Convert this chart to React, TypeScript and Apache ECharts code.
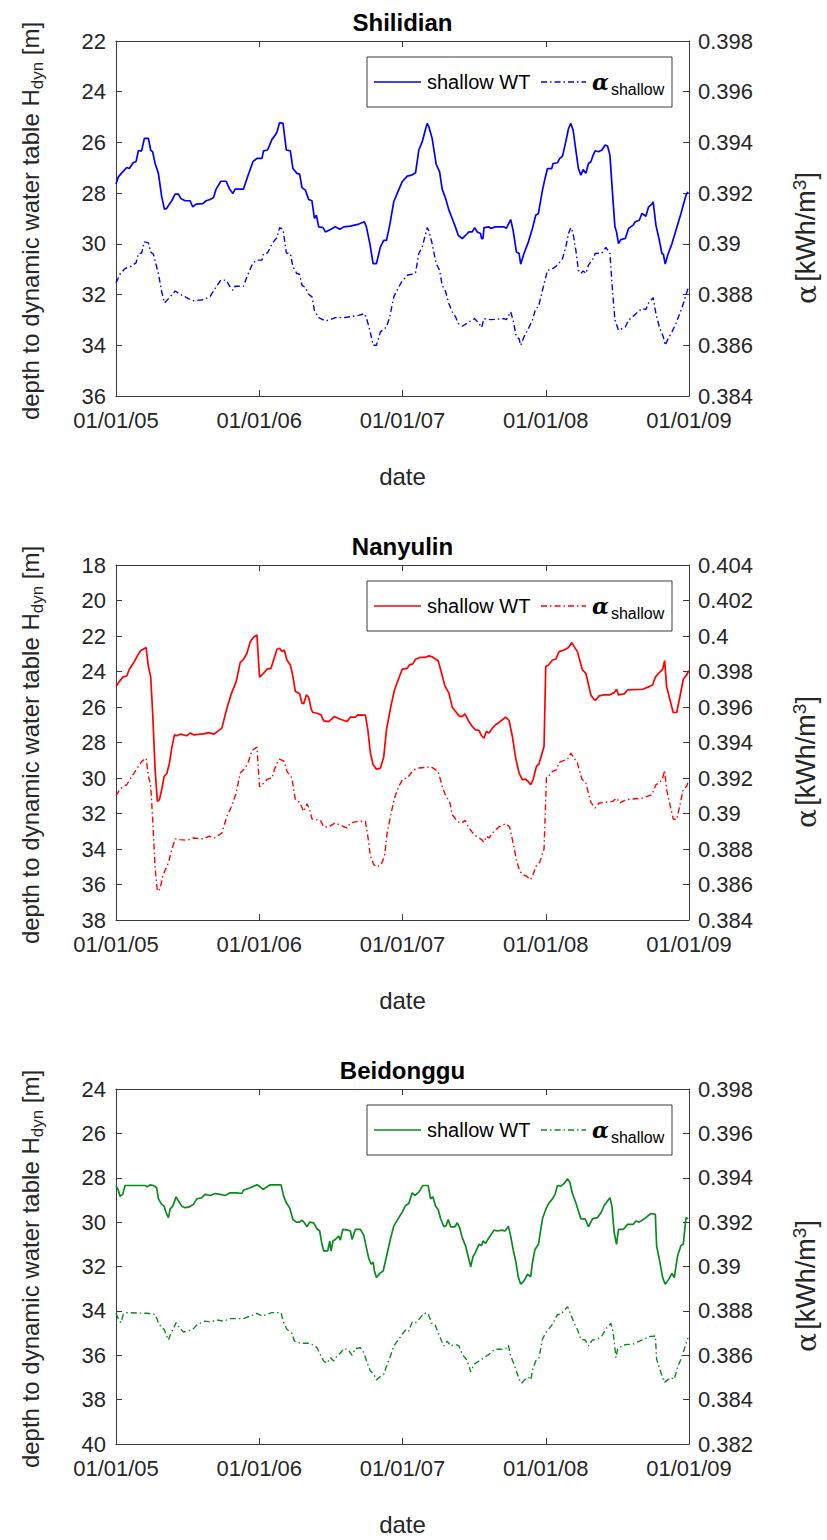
import React, { useEffect, useRef } from "react";
import * as echarts from "echarts";

const xTickLabels = ["01/01/05", "01/01/06", "01/01/07", "01/01/08", "01/01/09"];
const stationNames = ["Shilidian", "Nanyulin", "Beidonggu"];
const lineColors = ["#0000ff", "#ff0000", "#0a8a1e"];
const leftRanges = [[22, 36], [18, 38], [24, 40]];
const rightRanges = [[0.384, 0.398], [0.384, 0.404], [0.382, 0.398]];

const shilidianWT = [[2005.000,27.64],[2005.016,27.36],[2005.047,27.16],[2005.075,26.99],[2005.093,27.03],[2005.121,26.79],[2005.140,26.76],[2005.156,26.33],[2005.179,26.33],[2005.198,25.84],[2005.226,25.84],[2005.242,26.30],[2005.256,26.37],[2005.273,26.83],[2005.296,27.22],[2005.319,28.14],[2005.338,28.63],[2005.354,28.60],[2005.373,28.43],[2005.389,28.30],[2005.413,28.04],[2005.436,28.04],[2005.452,28.21],[2005.483,28.30],[2005.517,28.30],[2005.536,28.54],[2005.559,28.43],[2005.606,28.41],[2005.629,28.30],[2005.657,28.25],[2005.681,28.17],[2005.699,27.84],[2005.732,27.53],[2005.769,27.53],[2005.793,27.84],[2005.816,28.01],[2005.832,27.84],[2005.890,27.84],[2005.918,27.36],[2005.956,26.76],[2005.984,26.63],[2006.019,26.63],[2006.030,26.33],[2006.058,26.30],[2006.089,25.88],[2006.112,25.71],[2006.124,25.58],[2006.142,25.22],[2006.166,25.25],[2006.189,26.30],[2006.217,26.33],[2006.235,27.03],[2006.263,27.22],[2006.282,27.25],[2006.298,27.78],[2006.322,27.88],[2006.345,28.25],[2006.368,28.30],[2006.385,29.00],[2006.399,28.87],[2006.415,29.33],[2006.445,29.36],[2006.462,29.53],[2006.497,29.43],[2006.531,29.33],[2006.562,29.42],[2006.590,29.33],[2006.636,29.30],[2006.695,29.22],[2006.734,29.13],[2006.748,29.33],[2006.772,29.99],[2006.795,30.78],[2006.818,30.78],[2006.846,30.12],[2006.869,29.86],[2006.888,29.86],[2006.911,29.26],[2006.939,28.34],[2006.974,27.86],[2006.998,27.55],[2007.033,27.33],[2007.063,27.29],[2007.091,27.20],[2007.114,26.30],[2007.138,25.97],[2007.156,25.58],[2007.172,25.25],[2007.184,25.38],[2007.207,25.84],[2007.235,26.86],[2007.259,27.16],[2007.277,27.84],[2007.301,28.21],[2007.324,28.67],[2007.347,29.00],[2007.371,29.36],[2007.389,29.66],[2007.417,29.79],[2007.441,29.66],[2007.464,29.53],[2007.487,29.53],[2007.504,29.36],[2007.522,29.53],[2007.545,29.59],[2007.552,29.79],[2007.562,29.79],[2007.569,29.36],[2007.604,29.33],[2007.615,29.39],[2007.650,29.33],[2007.709,29.33],[2007.725,29.39],[2007.755,29.04],[2007.772,29.46],[2007.795,30.32],[2007.814,30.38],[2007.825,30.80],[2007.848,30.38],[2007.879,29.92],[2007.907,29.39],[2007.930,28.87],[2007.949,28.80],[2007.977,27.88],[2007.995,27.42],[2008.012,27.03],[2008.042,27.03],[2008.051,26.83],[2008.082,26.80],[2008.098,26.63],[2008.117,26.54],[2008.140,25.97],[2008.159,25.45],[2008.175,25.25],[2008.191,25.51],[2008.210,26.30],[2008.228,27.03],[2008.245,27.29],[2008.261,27.07],[2008.280,27.22],[2008.298,26.83],[2008.315,26.76],[2008.331,26.50],[2008.345,26.33],[2008.368,26.37],[2008.392,26.30],[2008.415,26.10],[2008.431,26.14],[2008.448,26.50],[2008.466,28.01],[2008.483,29.33],[2008.494,29.53],[2008.508,29.99],[2008.524,29.83],[2008.555,29.79],[2008.578,29.39],[2008.611,29.26],[2008.625,29.13],[2008.653,29.07],[2008.671,28.80],[2008.699,28.91],[2008.718,28.54],[2008.741,28.43],[2008.750,28.34],[2008.769,29.26],[2008.793,29.86],[2008.811,30.38],[2008.821,30.41],[2008.834,30.80],[2008.851,30.45],[2008.881,29.99],[2008.909,29.46],[2008.944,28.80],[2008.960,28.47],[2008.979,28.08],[2008.993,27.95]];

const shilidianAlpha = [[2005.000,0.38846],[2005.028,0.38880],[2005.063,0.38903],[2005.098,0.38909],[2005.140,0.38925],[2005.156,0.38962],[2005.179,0.38964],[2005.198,0.39008],[2005.226,0.39004],[2005.242,0.38968],[2005.261,0.38959],[2005.296,0.38883],[2005.319,0.38811],[2005.338,0.38767],[2005.373,0.38788],[2005.413,0.38814],[2005.448,0.38801],[2005.483,0.38791],[2005.536,0.38775],[2005.611,0.38780],[2005.657,0.38793],[2005.699,0.38830],[2005.732,0.38857],[2005.769,0.38857],[2005.793,0.38833],[2005.816,0.38817],[2005.832,0.38833],[2005.890,0.38833],[2005.918,0.38876],[2005.956,0.38925],[2005.984,0.38936],[2006.019,0.38936],[2006.030,0.38962],[2006.058,0.38964],[2006.089,0.39001],[2006.124,0.39025],[2006.142,0.39064],[2006.166,0.39058],[2006.189,0.38964],[2006.217,0.38962],[2006.235,0.38909],[2006.263,0.38883],[2006.282,0.38880],[2006.298,0.38837],[2006.322,0.38828],[2006.345,0.38801],[2006.368,0.38791],[2006.385,0.38738],[2006.415,0.38709],[2006.462,0.38696],[2006.497,0.38701],[2006.531,0.38709],[2006.590,0.38709],[2006.695,0.38718],[2006.734,0.38725],[2006.748,0.38709],[2006.772,0.38659],[2006.795,0.38600],[2006.818,0.38600],[2006.846,0.38653],[2006.888,0.38672],[2006.911,0.38712],[2006.939,0.38791],[2006.974,0.38830],[2006.998,0.38854],[2007.033,0.38876],[2007.063,0.38880],[2007.091,0.38886],[2007.114,0.38962],[2007.138,0.38988],[2007.156,0.39028],[2007.172,0.39064],[2007.184,0.39051],[2007.207,0.39001],[2007.235,0.38922],[2007.259,0.38896],[2007.277,0.38837],[2007.301,0.38811],[2007.324,0.38764],[2007.347,0.38732],[2007.371,0.38712],[2007.389,0.38686],[2007.417,0.38675],[2007.464,0.38692],[2007.504,0.38705],[2007.534,0.38686],[2007.552,0.38670],[2007.569,0.38705],[2007.615,0.38701],[2007.709,0.38705],[2007.725,0.38701],[2007.755,0.38732],[2007.772,0.38699],[2007.795,0.38633],[2007.814,0.38626],[2007.825,0.38600],[2007.848,0.38633],[2007.879,0.38666],[2007.907,0.38699],[2007.930,0.38745],[2007.949,0.38751],[2007.977,0.38817],[2007.995,0.38857],[2008.012,0.38896],[2008.042,0.38899],[2008.082,0.38916],[2008.117,0.38942],[2008.140,0.38988],[2008.159,0.39041],[2008.175,0.39064],[2008.191,0.39041],[2008.210,0.38975],[2008.228,0.38896],[2008.245,0.38883],[2008.261,0.38893],[2008.280,0.38883],[2008.298,0.38916],[2008.331,0.38942],[2008.345,0.38962],[2008.392,0.38964],[2008.420,0.38986],[2008.448,0.38962],[2008.466,0.38817],[2008.483,0.38699],[2008.508,0.38659],[2008.555,0.38672],[2008.578,0.38699],[2008.625,0.38722],[2008.671,0.38745],[2008.699,0.38741],[2008.718,0.38767],[2008.750,0.38788],[2008.769,0.38725],[2008.793,0.38672],[2008.821,0.38633],[2008.834,0.38600],[2008.851,0.38622],[2008.881,0.38653],[2008.909,0.38686],[2008.944,0.38738],[2008.960,0.38764],[2008.993,0.38824]];

const nanyulinWT = [[2005.000,24.85],[2005.023,24.57],[2005.047,24.32],[2005.075,24.25],[2005.093,23.87],[2005.121,23.54],[2005.149,23.12],[2005.172,22.82],[2005.191,22.75],[2005.210,22.64],[2005.226,23.72],[2005.242,24.29],[2005.256,26.35],[2005.273,29.53],[2005.289,31.32],[2005.303,31.22],[2005.319,30.66],[2005.336,29.91],[2005.354,29.76],[2005.373,29.16],[2005.389,28.32],[2005.408,27.57],[2005.424,27.62],[2005.448,27.53],[2005.494,27.62],[2005.517,27.47],[2005.541,27.57],[2005.611,27.51],[2005.646,27.44],[2005.685,27.53],[2005.723,27.29],[2005.739,27.19],[2005.774,26.07],[2005.802,25.32],[2005.839,24.57],[2005.867,23.50],[2005.890,23.31],[2005.914,22.97],[2005.937,22.32],[2005.960,22.07],[2005.984,21.94],[2006.002,24.32],[2006.026,24.14],[2006.054,23.87],[2006.082,23.82],[2006.100,23.35],[2006.124,22.75],[2006.142,22.69],[2006.159,22.88],[2006.175,22.79],[2006.193,23.35],[2006.217,23.63],[2006.235,24.29],[2006.252,25.13],[2006.282,25.26],[2006.298,25.79],[2006.310,25.82],[2006.329,25.32],[2006.345,25.45],[2006.364,26.16],[2006.375,26.31],[2006.403,26.35],[2006.431,26.44],[2006.450,26.78],[2006.485,26.82],[2006.524,26.54],[2006.566,26.69],[2006.613,26.82],[2006.636,26.57],[2006.671,26.57],[2006.688,26.44],[2006.741,26.46],[2006.758,27.29],[2006.776,28.60],[2006.795,29.25],[2006.818,29.50],[2006.846,29.44],[2006.869,28.82],[2006.888,27.29],[2006.916,26.07],[2006.944,25.04],[2006.974,24.38],[2006.998,23.87],[2007.033,23.82],[2007.049,23.63],[2007.072,23.57],[2007.091,23.31],[2007.126,23.20],[2007.161,23.20],[2007.184,23.12],[2007.203,23.16],[2007.249,23.39],[2007.273,24.10],[2007.296,24.81],[2007.324,25.22],[2007.347,26.01],[2007.371,26.25],[2007.394,26.50],[2007.417,26.54],[2007.436,26.39],[2007.459,26.76],[2007.487,27.10],[2007.510,27.29],[2007.534,27.32],[2007.552,27.62],[2007.569,27.75],[2007.585,27.38],[2007.604,27.47],[2007.627,27.19],[2007.650,27.00],[2007.674,26.87],[2007.697,26.72],[2007.720,26.57],[2007.744,26.76],[2007.767,27.66],[2007.790,28.88],[2007.814,29.72],[2007.837,30.10],[2007.860,30.06],[2007.876,30.19],[2007.895,30.38],[2007.911,30.10],[2007.935,29.35],[2007.953,29.20],[2007.988,28.22],[2008.000,23.72],[2008.019,23.63],[2008.047,23.35],[2008.070,23.31],[2008.093,22.88],[2008.128,22.79],[2008.152,22.69],[2008.163,22.60],[2008.182,22.37],[2008.198,22.60],[2008.221,22.88],[2008.256,23.91],[2008.280,24.10],[2008.315,25.32],[2008.338,25.60],[2008.350,25.60],[2008.373,25.37],[2008.408,25.32],[2008.443,25.32],[2008.478,25.19],[2008.494,25.00],[2008.508,25.32],[2008.548,25.26],[2008.571,25.04],[2008.676,25.00],[2008.723,24.85],[2008.746,24.76],[2008.765,24.32],[2008.793,24.06],[2008.816,23.87],[2008.830,23.39],[2008.844,24.85],[2008.867,25.60],[2008.890,26.31],[2008.914,26.31],[2008.937,25.41],[2008.960,24.44],[2008.984,24.19],[2008.998,23.95]];

const nanyulinAlpha = [[2005.000,0.39100],[2005.023,0.39130],[2005.051,0.39153],[2005.075,0.39162],[2005.098,0.39194],[2005.126,0.39228],[2005.156,0.39265],[2005.179,0.39293],[2005.210,0.39312],[2005.226,0.39209],[2005.242,0.39162],[2005.256,0.38965],[2005.273,0.38694],[2005.289,0.38562],[2005.308,0.38575],[2005.326,0.38647],[2005.343,0.38680],[2005.366,0.38722],[2005.389,0.38797],[2005.413,0.38857],[2005.448,0.38853],[2005.494,0.38849],[2005.541,0.38862],[2005.611,0.38857],[2005.653,0.38872],[2005.685,0.38862],[2005.723,0.38881],[2005.739,0.38890],[2005.774,0.38984],[2005.802,0.39031],[2005.839,0.39115],[2005.867,0.39228],[2005.902,0.39256],[2005.925,0.39293],[2005.949,0.39355],[2005.984,0.39374],[2006.002,0.39149],[2006.030,0.39171],[2006.058,0.39194],[2006.089,0.39200],[2006.105,0.39246],[2006.124,0.39284],[2006.142,0.39306],[2006.175,0.39293],[2006.193,0.39237],[2006.228,0.39200],[2006.252,0.39078],[2006.282,0.39063],[2006.310,0.39012],[2006.333,0.39055],[2006.352,0.39022],[2006.368,0.38969],[2006.427,0.38962],[2006.450,0.38924],[2006.485,0.38924],[2006.531,0.38947],[2006.613,0.38918],[2006.636,0.38947],[2006.688,0.38956],[2006.741,0.38956],[2006.758,0.38872],[2006.776,0.38759],[2006.800,0.38712],[2006.823,0.38699],[2006.851,0.38712],[2006.874,0.38759],[2006.893,0.38890],[2006.921,0.39003],[2006.944,0.39087],[2006.974,0.39153],[2007.002,0.39194],[2007.033,0.39200],[2007.056,0.39224],[2007.079,0.39246],[2007.114,0.39256],[2007.172,0.39261],[2007.196,0.39265],[2007.249,0.39237],[2007.277,0.39153],[2007.301,0.39100],[2007.329,0.39068],[2007.347,0.38993],[2007.371,0.38969],[2007.394,0.38950],[2007.417,0.38947],[2007.436,0.38962],[2007.459,0.38924],[2007.487,0.38894],[2007.510,0.38875],[2007.552,0.38853],[2007.569,0.38838],[2007.585,0.38872],[2007.604,0.38862],[2007.639,0.38900],[2007.674,0.38924],[2007.720,0.38943],[2007.748,0.38924],[2007.772,0.38834],[2007.795,0.38740],[2007.818,0.38675],[2007.841,0.38656],[2007.865,0.38647],[2007.895,0.38628],[2007.911,0.38656],[2007.935,0.38707],[2007.958,0.38725],[2007.988,0.38800],[2008.005,0.39205],[2008.028,0.39218],[2008.047,0.39237],[2008.075,0.39246],[2008.093,0.39288],[2008.128,0.39299],[2008.152,0.39306],[2008.175,0.39340],[2008.191,0.39321],[2008.221,0.39284],[2008.252,0.39194],[2008.280,0.39171],[2008.315,0.39063],[2008.345,0.39031],[2008.373,0.39059],[2008.420,0.39063],[2008.466,0.39068],[2008.494,0.39087],[2008.517,0.39059],[2008.559,0.39078],[2008.676,0.39087],[2008.741,0.39106],[2008.769,0.39162],[2008.797,0.39175],[2008.816,0.39200],[2008.830,0.39243],[2008.844,0.39134],[2008.867,0.39050],[2008.890,0.38969],[2008.914,0.38965],[2008.937,0.39050],[2008.960,0.39138],[2008.984,0.39153],[2008.998,0.39190]];

const beidongguWT = [[2005.000,28.35],[2005.016,28.56],[2005.028,28.83],[2005.047,28.75],[2005.063,28.35],[2005.203,28.35],[2005.219,28.41],[2005.238,28.32],[2005.261,28.35],[2005.284,28.45],[2005.296,28.95],[2005.319,29.20],[2005.336,29.28],[2005.350,29.58],[2005.366,29.80],[2005.378,29.40],[2005.396,29.28],[2005.420,28.86],[2005.436,29.05],[2005.459,29.28],[2005.483,29.35],[2005.513,29.31],[2005.541,29.20],[2005.564,28.95],[2005.599,28.90],[2005.622,28.75],[2005.657,28.80],[2005.692,28.71],[2005.727,28.75],[2005.762,28.80],[2005.797,28.68],[2005.844,28.68],[2005.879,28.71],[2005.890,28.56],[2005.937,28.45],[2005.984,28.32],[2006.007,28.41],[2006.026,28.53],[2006.054,28.41],[2006.077,28.32],[2006.152,28.32],[2006.170,28.83],[2006.189,29.13],[2006.212,29.35],[2006.235,29.88],[2006.259,30.00],[2006.282,30.00],[2006.298,29.91],[2006.315,30.03],[2006.333,30.21],[2006.352,30.00],[2006.380,30.03],[2006.403,30.30],[2006.422,30.40],[2006.438,31.00],[2006.450,31.30],[2006.478,31.30],[2006.492,30.85],[2006.501,31.30],[2006.515,30.85],[2006.531,30.78],[2006.555,30.63],[2006.566,30.81],[2006.583,30.33],[2006.618,30.36],[2006.636,30.40],[2006.648,30.78],[2006.671,30.33],[2006.706,30.33],[2006.730,30.60],[2006.748,31.15],[2006.765,31.65],[2006.781,31.90],[2006.795,31.80],[2006.804,32.20],[2006.818,32.50],[2006.841,32.31],[2006.865,32.20],[2006.881,31.75],[2006.897,31.30],[2006.916,30.75],[2006.939,30.18],[2006.974,29.80],[2006.998,29.55],[2007.021,29.25],[2007.044,29.16],[2007.068,28.68],[2007.086,28.80],[2007.114,28.65],[2007.142,28.35],[2007.179,28.35],[2007.196,28.95],[2007.212,28.86],[2007.231,29.28],[2007.249,29.43],[2007.266,29.85],[2007.289,30.21],[2007.305,30.15],[2007.319,29.88],[2007.336,30.21],[2007.366,30.21],[2007.382,30.03],[2007.399,30.25],[2007.417,30.70],[2007.441,31.08],[2007.452,31.38],[2007.476,32.01],[2007.492,31.56],[2007.510,31.35],[2007.534,31.00],[2007.552,31.05],[2007.562,30.85],[2007.580,30.96],[2007.604,30.70],[2007.639,30.36],[2007.662,30.40],[2007.692,30.36],[2007.716,30.40],[2007.739,30.18],[2007.755,30.63],[2007.772,31.23],[2007.790,31.75],[2007.809,32.50],[2007.825,32.80],[2007.848,32.65],[2007.872,32.35],[2007.895,32.46],[2007.907,31.83],[2007.925,31.23],[2007.949,31.00],[2007.977,29.85],[2008.000,29.43],[2008.023,29.13],[2008.047,28.95],[2008.065,28.75],[2008.082,28.35],[2008.105,28.38],[2008.128,28.26],[2008.152,28.05],[2008.168,28.20],[2008.186,28.71],[2008.210,29.13],[2008.228,29.50],[2008.245,29.85],[2008.275,29.85],[2008.298,30.21],[2008.326,29.85],[2008.361,29.80],[2008.385,29.58],[2008.408,29.25],[2008.431,29.05],[2008.448,28.90],[2008.462,29.28],[2008.478,30.48],[2008.494,31.00],[2008.508,30.33],[2008.541,30.33],[2008.571,30.10],[2008.611,30.10],[2008.629,29.95],[2008.653,30.00],[2008.688,29.85],[2008.734,29.61],[2008.765,29.65],[2008.774,31.08],[2008.793,31.68],[2008.816,32.50],[2008.834,32.80],[2008.858,32.58],[2008.881,32.31],[2008.897,32.50],[2008.921,31.50],[2008.944,31.05],[2008.960,31.00],[2008.979,29.80],[2008.993,29.85]];

const beidongguAlpha = [[2005.000,0.38789],[2005.016,0.38765],[2005.033,0.38747],[2005.051,0.38784],[2005.075,0.38792],[2005.214,0.38789],[2005.273,0.38784],[2005.296,0.38747],[2005.319,0.38724],[2005.336,0.38717],[2005.354,0.38687],[2005.366,0.38669],[2005.382,0.38698],[2005.401,0.38720],[2005.420,0.38747],[2005.443,0.38724],[2005.471,0.38705],[2005.506,0.38709],[2005.541,0.38720],[2005.569,0.38739],[2005.622,0.38754],[2005.657,0.38750],[2005.704,0.38759],[2005.751,0.38754],[2005.797,0.38765],[2005.890,0.38765],[2005.937,0.38777],[2005.984,0.38789],[2006.019,0.38777],[2006.054,0.38784],[2006.089,0.38792],[2006.152,0.38792],[2006.170,0.38747],[2006.193,0.38717],[2006.228,0.38699],[2006.245,0.38664],[2006.275,0.38657],[2006.305,0.38654],[2006.345,0.38654],[2006.368,0.38649],[2006.403,0.38634],[2006.431,0.38597],[2006.450,0.38574],[2006.473,0.38564],[2006.497,0.38589],[2006.520,0.38574],[2006.543,0.38597],[2006.566,0.38609],[2006.590,0.38630],[2006.618,0.38627],[2006.648,0.38600],[2006.671,0.38630],[2006.706,0.38634],[2006.730,0.38612],[2006.753,0.38567],[2006.776,0.38529],[2006.800,0.38514],[2006.818,0.38489],[2006.846,0.38504],[2006.869,0.38514],[2006.893,0.38559],[2006.916,0.38597],[2006.939,0.38642],[2006.974,0.38672],[2007.002,0.38699],[2007.026,0.38717],[2007.044,0.38709],[2007.068,0.38750],[2007.091,0.38747],[2007.119,0.38765],[2007.149,0.38789],[2007.179,0.38789],[2007.203,0.38744],[2007.226,0.38739],[2007.249,0.38702],[2007.273,0.38664],[2007.289,0.38642],[2007.312,0.38664],[2007.336,0.38642],[2007.371,0.38649],[2007.394,0.38642],[2007.417,0.38604],[2007.445,0.38582],[2007.464,0.38552],[2007.476,0.38525],[2007.499,0.38559],[2007.534,0.38574],[2007.569,0.38589],[2007.604,0.38604],[2007.646,0.38627],[2007.692,0.38627],[2007.720,0.38630],[2007.739,0.38645],[2007.755,0.38597],[2007.779,0.38559],[2007.795,0.38529],[2007.814,0.38492],[2007.832,0.38474],[2007.860,0.38495],[2007.883,0.38499],[2007.895,0.38489],[2007.911,0.38540],[2007.930,0.38574],[2007.953,0.38589],[2007.977,0.38672],[2008.000,0.38702],[2008.023,0.38720],[2008.047,0.38739],[2008.082,0.38784],[2008.105,0.38784],[2008.152,0.38819],[2008.175,0.38784],[2008.198,0.38744],[2008.221,0.38717],[2008.245,0.38672],[2008.275,0.38669],[2008.298,0.38642],[2008.326,0.38669],[2008.361,0.38672],[2008.392,0.38687],[2008.420,0.38720],[2008.455,0.38744],[2008.471,0.38702],[2008.490,0.38589],[2008.501,0.38627],[2008.536,0.38645],[2008.571,0.38649],[2008.606,0.38649],[2008.641,0.38660],[2008.676,0.38669],[2008.723,0.38684],[2008.765,0.38687],[2008.774,0.38582],[2008.804,0.38522],[2008.828,0.38477],[2008.851,0.38489],[2008.874,0.38499],[2008.897,0.38492],[2008.921,0.38549],[2008.944,0.38582],[2008.967,0.38627],[2008.993,0.38679]];

const wtSeries = [shilidianWT, nanyulinWT, beidongguWT];
const alphaSeries = [shilidianAlpha, nanyulinAlpha, beidongguAlpha];

const FONT = "'Liberation Sans', Arial, Helvetica, sans-serif";
const TXT = "#262626";
const AX = "#3a3a3a";
const GRID_LEFT = 116;
const GRID_W = 573;
const GRID_H = 355;
const TOPS = [41, 565, 1089];
const DASHDOT = [6, 3, 1.5, 3];

function buildOption() {
  const grid: any[] = [];
  const xAxis: any[] = [];
  const yAxis: any[] = [];
  const series: any[] = [];
  const graphic: any[] = [];
  const axisLine = { show: true, onZero: false, lineStyle: { color: AX, width: 1 } };
  const axisTick = { show: true, inside: true, length: 6, lineStyle: { color: AX, width: 1 } };
  const label = { color: TXT, fontSize: 22, fontFamily: FONT };

  TOPS.forEach((top, i) => {
    const color = lineColors[i];
    grid.push({ left: GRID_LEFT, top, width: GRID_W, height: GRID_H });
    xAxis.push({
      gridIndex: i, type: "value", position: "bottom", min: 2005, max: 2009, interval: 1,
      axisLine, axisTick, splitLine: { show: false },
      axisLabel: { ...label, margin: 13, formatter: (v: number) => xTickLabels[Math.round(v - 2005)] },
    });
    xAxis.push({
      gridIndex: i, type: "value", position: "top", min: 2005, max: 2009, interval: 1,
      axisLine, axisTick, splitLine: { show: false }, axisLabel: { show: false },
    });
    yAxis.push({
      gridIndex: i, type: "value", position: "left", inverse: true,
      min: leftRanges[i][0], max: leftRanges[i][1], interval: 2,
      axisLine, axisTick, splitLine: { show: false },
      axisLabel: { ...label, margin: 10 },
    });
    yAxis.push({
      gridIndex: i, type: "value", position: "right",
      min: rightRanges[i][0], max: rightRanges[i][1], interval: 0.002,
      axisLine, axisTick, splitLine: { show: false },
      axisLabel: { ...label, margin: 9, formatter: (v: number) => String(parseFloat(v.toFixed(3))) },
    });
    series.push({
      type: "line", name: "shallow WT", xAxisIndex: 2 * i, yAxisIndex: 2 * i,
      data: wtSeries[i], showSymbol: false, symbol: "none", silent: true,
      lineStyle: { color, width: 1.7 }, itemStyle: { color }, z: 3,
    });
    series.push({
      type: "line", name: "alpha shallow", xAxisIndex: 2 * i, yAxisIndex: 2 * i + 1,
      data: alphaSeries[i], showSymbol: false, symbol: "none", silent: true,
      lineStyle: { color, width: 1.4, type: DASHDOT }, itemStyle: { color }, z: 3,
    });

    const cx = GRID_LEFT + GRID_W / 2;
    graphic.push({
      type: "text", x: cx, y: top - 19, z: 50,
      style: { text: stationNames[i], fill: "#000", font: `bold 24px ${FONT}`, align: "center", verticalAlign: "middle" },
    });
    graphic.push({
      type: "text", x: cx, y: top + 435, z: 50,
      style: { text: "date", fill: TXT, font: `24px ${FONT}`, align: "center", verticalAlign: "middle" },
    });
    graphic.push({
      type: "text", x: 30, y: top + 180, rotation: Math.PI / 2, z: 50,
      style: {
        text: "{m|depth to dynamic water table H}{s|dyn}{m| [m]}",
        align: "center", verticalAlign: "middle",
        rich: {
          m: { fontSize: 24, fontFamily: FONT, fill: TXT, verticalAlign: "middle" },
          s: { fontSize: 17, fontFamily: FONT, fill: TXT, padding: [14, 0, 0, 0], verticalAlign: "middle" },
        },
      },
    });
    graphic.push({
      type: "text", x: 806, y: top + 197, rotation: Math.PI / 2, z: 50,
      style: {
        text: "{g|α} {m|[kWh/m}{p|3}{m|]}",
        align: "center", verticalAlign: "middle",
        rich: {
          g: { fontSize: 28, fontFamily: "'DejaVu Serif', serif", fill: TXT, verticalAlign: "middle" },
          m: { fontSize: 27, fontFamily: FONT, fill: TXT, verticalAlign: "middle" },
          p: { fontSize: 19, fontFamily: FONT, fill: TXT, padding: [0, 0, 14, 0], verticalAlign: "middle" },
        },
      },
    });
    const ly = top + 16;
    const midY = ly + 25;
    graphic.push({
      type: "rect", z: 60, shape: { x: 367, y: ly, width: 305, height: 50 },
      style: { fill: "#fff", stroke: AX, lineWidth: 1 },
    });
    graphic.push({
      type: "line", z: 61, shape: { x1: 374, y1: midY, x2: 421, y2: midY },
      style: { stroke: color, lineWidth: 1.7 },
    });
    graphic.push({
      type: "text", z: 61, x: 427, y: midY,
      style: { text: "shallow WT", fill: "#000", font: `20px ${FONT}`, align: "left", verticalAlign: "middle" },
    });
    graphic.push({
      type: "line", z: 61, shape: { x1: 541, y1: midY, x2: 586, y2: midY },
      style: { stroke: color, lineWidth: 1.4, lineDash: DASHDOT },
    });
    graphic.push({
      type: "text", z: 61, x: 592, y: midY,
      style: {
        text: "{g|α}{s|shallow}", align: "left", verticalAlign: "middle",
        rich: {
          g: { fontSize: 22, fontFamily: "'DejaVu Serif', serif", fontStyle: "italic", fontWeight: "bold", fill: "#000", verticalAlign: "middle" },
          s: { fontSize: 16, fontFamily: FONT, fill: "#000", padding: [14, 0, 0, 2], verticalAlign: "middle" },
        },
      },
    });
  });

  return { animation: false, backgroundColor: "#fff", grid, xAxis, yAxis, series, graphic };
}

export default function App() {
  const ref = useRef<HTMLDivElement>(null);
  useEffect(() => {
    if (!ref.current) return;
    const chart = echarts.init(ref.current, undefined, { renderer: "svg" });
    chart.setOption(buildOption() as any);
    return () => chart.dispose();
  }, []);
  return (
    <div
      ref={ref}
      style={{ position: "absolute", left: 0, top: 0, width: 827, height: 1540, background: "#fff" }}
    />
  );
}
